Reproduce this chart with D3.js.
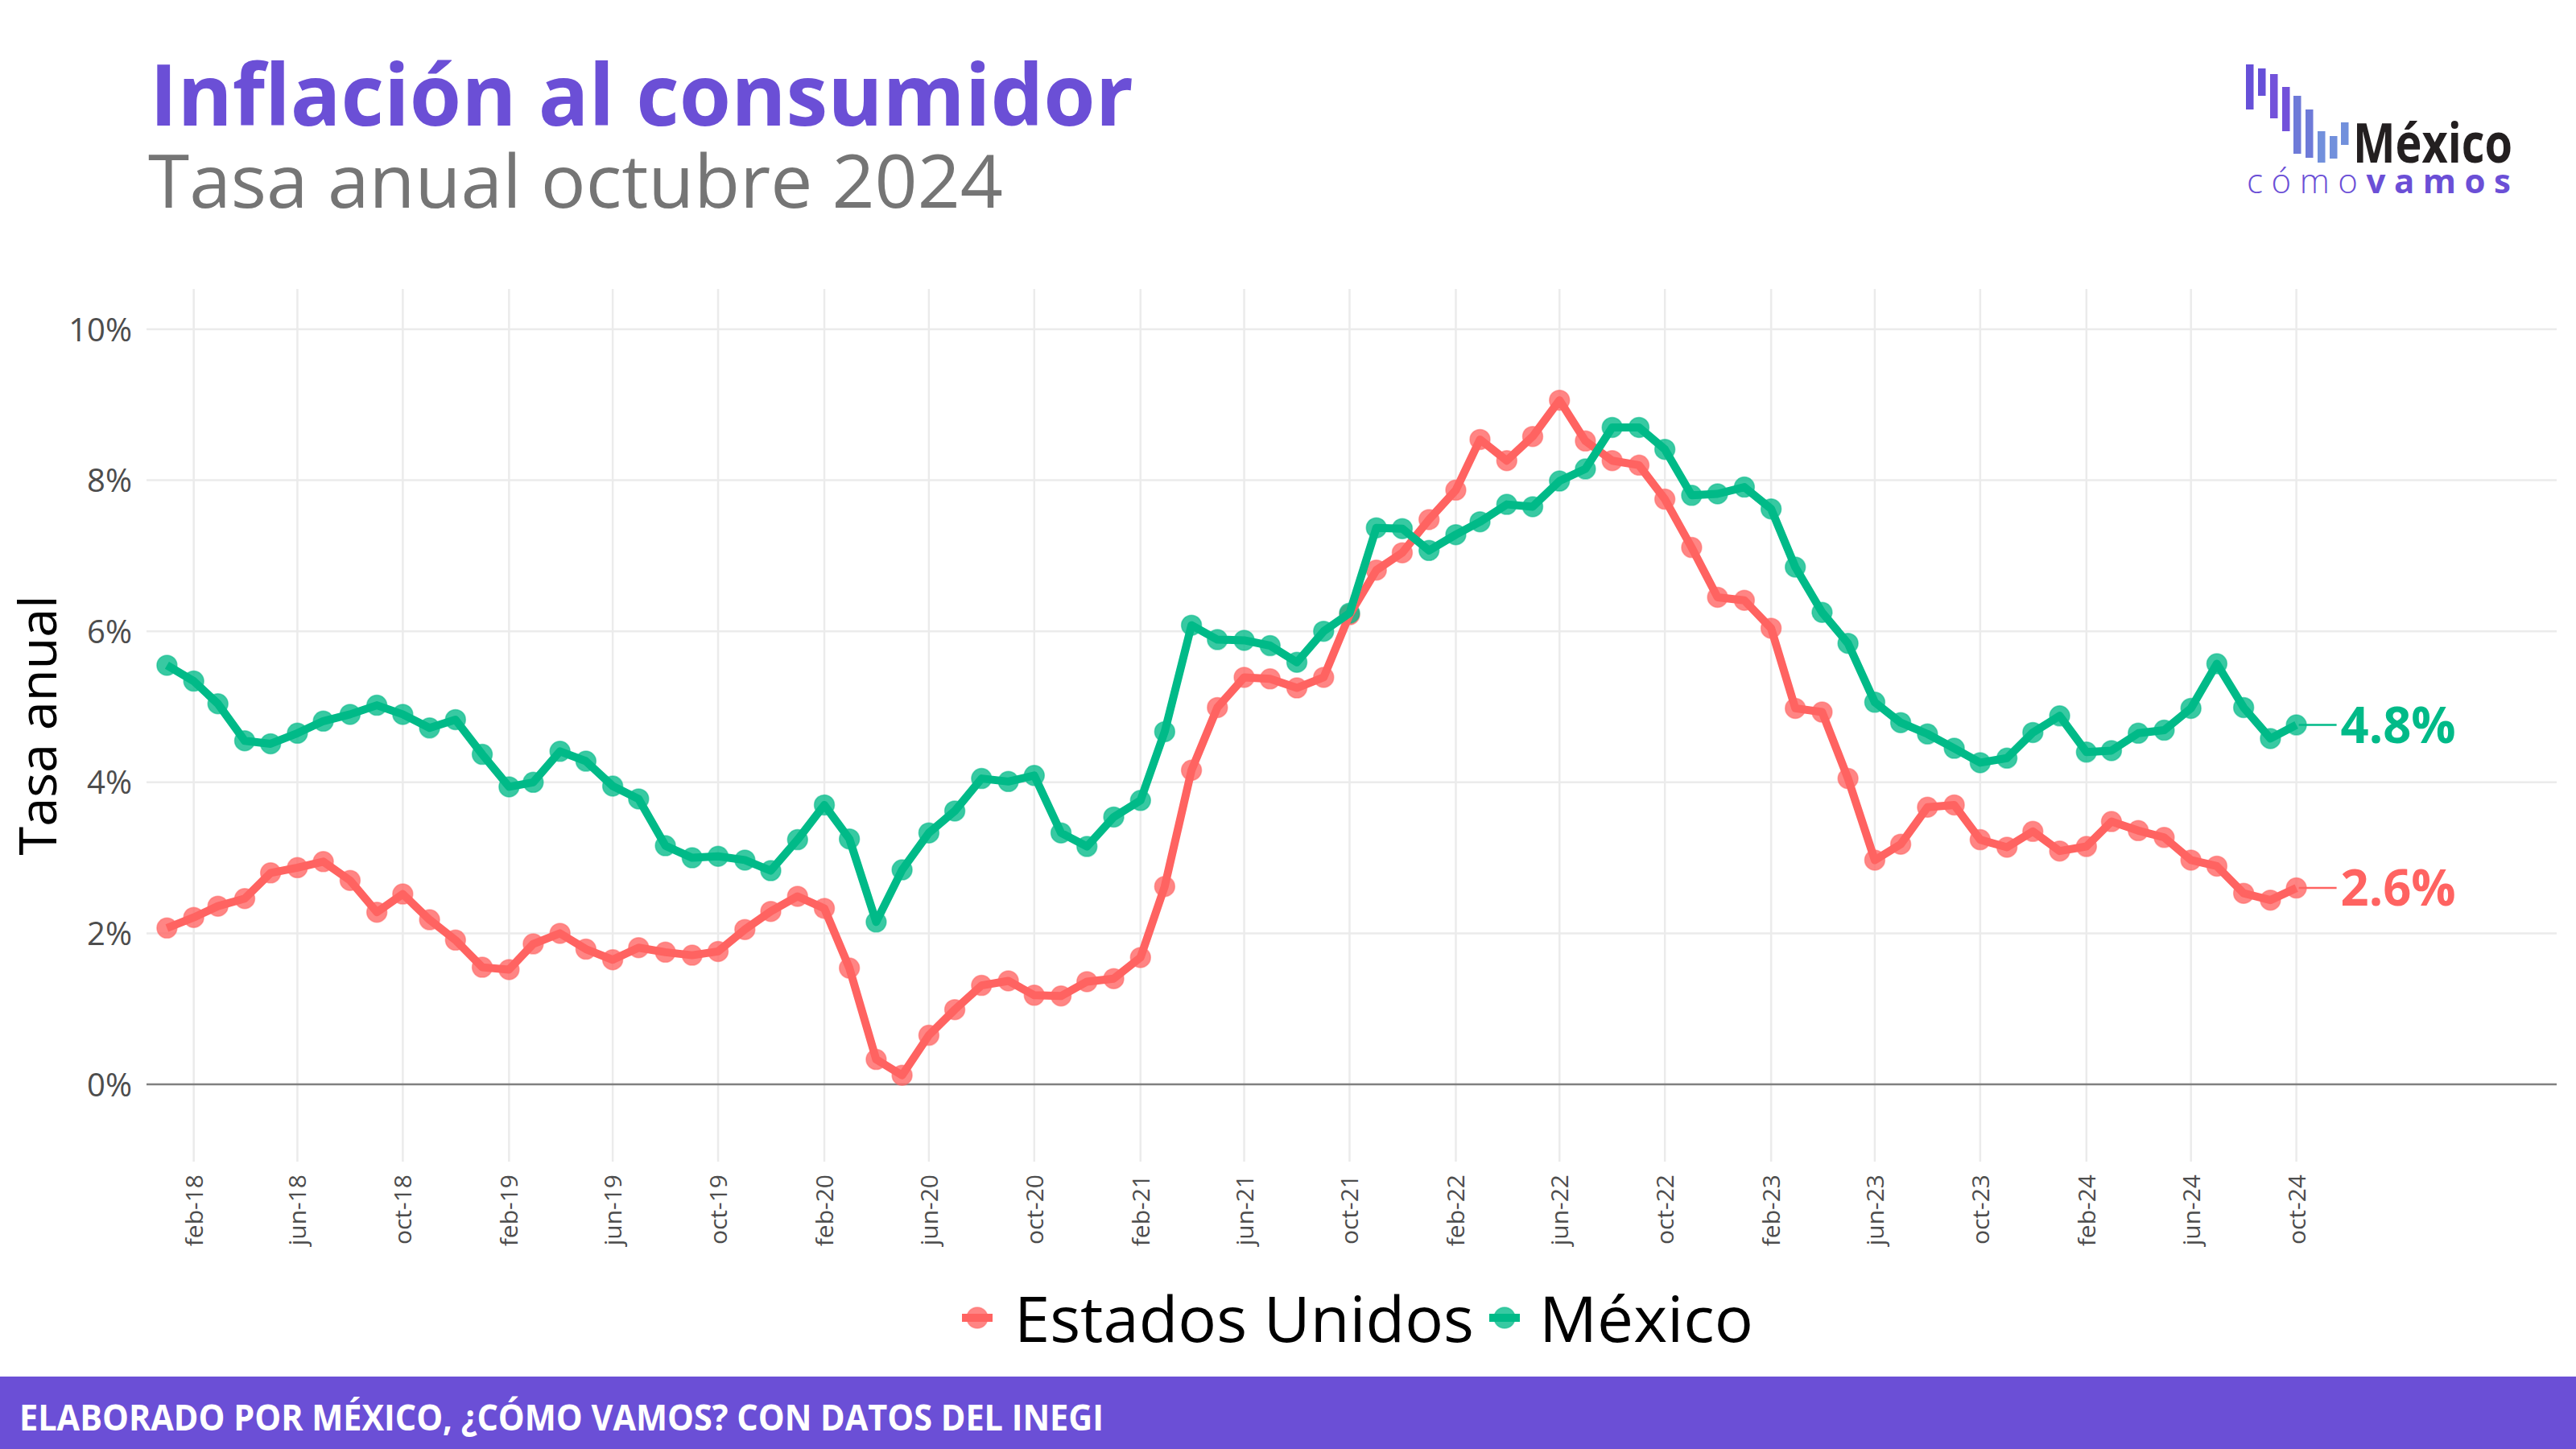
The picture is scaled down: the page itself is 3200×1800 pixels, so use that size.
<!DOCTYPE html>
<html>
<head>
<meta charset="utf-8">
<script src="https://cdn.jsdelivr.net/npm/d3@7"></script>
<style>
  html, body { margin: 0; padding: 0; background: #ffffff; }
  svg { display: block; }
</style>
</head>
<body>
<svg id="chart" width="3200" height="1800"></svg>
<script>
// ---------------- DATA ----------------
const months = [
  "2018-01","2018-02","2018-03","2018-04","2018-05","2018-06","2018-07","2018-08","2018-09","2018-10","2018-11","2018-12",
  "2019-01","2019-02","2019-03","2019-04","2019-05","2019-06","2019-07","2019-08","2019-09","2019-10","2019-11","2019-12",
  "2020-01","2020-02","2020-03","2020-04","2020-05","2020-06","2020-07","2020-08","2020-09","2020-10","2020-11","2020-12",
  "2021-01","2021-02","2021-03","2021-04","2021-05","2021-06","2021-07","2021-08","2021-09","2021-10","2021-11","2021-12",
  "2022-01","2022-02","2022-03","2022-04","2022-05","2022-06","2022-07","2022-08","2022-09","2022-10","2022-11","2022-12",
  "2023-01","2023-02","2023-03","2023-04","2023-05","2023-06","2023-07","2023-08","2023-09","2023-10","2023-11","2023-12",
  "2024-01","2024-02","2024-03","2024-04","2024-05","2024-06","2024-07","2024-08","2024-09","2024-10"
];

const estadosUnidos = [
  2.07,2.21,2.36,2.46,2.80,2.87,2.95,2.70,2.28,2.52,2.18,1.91,
  1.55,1.52,1.86,2.00,1.79,1.65,1.81,1.75,1.71,1.76,2.05,2.29,
  2.49,2.33,1.54,0.33,0.12,0.65,0.99,1.31,1.37,1.18,1.17,1.36,
  1.40,1.68,2.62,4.16,4.99,5.39,5.37,5.25,5.39,6.22,6.81,7.04,
  7.48,7.87,8.54,8.26,8.58,9.06,8.52,8.26,8.20,7.75,7.11,6.45,
  6.41,6.04,4.98,4.93,4.05,2.97,3.18,3.67,3.70,3.24,3.14,3.35,
  3.09,3.15,3.48,3.36,3.27,2.97,2.89,2.53,2.44,2.60
];

const mexico = [
  5.55,5.34,5.04,4.55,4.51,4.65,4.81,4.90,5.02,4.90,4.72,4.83,
  4.37,3.94,4.00,4.41,4.28,3.95,3.78,3.16,3.00,3.02,2.97,2.83,
  3.24,3.70,3.25,2.15,2.84,3.33,3.62,4.05,4.01,4.09,3.33,3.15,
  3.54,3.76,4.67,6.08,5.89,5.88,5.81,5.59,6.00,6.24,7.37,7.36,
  7.07,7.28,7.45,7.68,7.65,7.99,8.15,8.70,8.70,8.41,7.80,7.82,
  7.91,7.62,6.85,6.25,5.84,5.06,4.79,4.64,4.45,4.26,4.32,4.66,
  4.88,4.40,4.42,4.65,4.69,4.98,5.57,4.99,4.58,4.76
];

const seriesNames = ["Estados Unidos", "México"];
const yTicks = [0, 2, 4, 6, 8, 10];
const xTickMonths = [
  "2018-02","2018-06","2018-10","2019-02","2019-06","2019-10","2020-02","2020-06","2020-10",
  "2021-02","2021-06","2021-10","2022-02","2022-06","2022-10","2023-02","2023-06","2023-10",
  "2024-02","2024-06","2024-10"
];
const monthAbbr = ["ene","feb","mar","abr","may","jun","jul","ago","sep","oct","nov","dic"];

// ---------------- STYLE / LAYOUT ----------------
const FONT = "'Open Sans', 'Noto Sans', sans-serif";
const colors = { "Estados Unidos": "#FF6361", "México": "#00BA88" };
const purple = "#6B4FD6";
const panel = { left: 182, right: 3176, top: 359, bottom: 1443 };

const svg = d3.select("#chart");
const parse = d3.timeParse("%Y-%m");
const dates = months.map(parse);

const x = d3.scaleTime()
  .domain([dates[0], dates[dates.length - 1]])
  .range([207.4, 2852.6]);
const y = d3.scaleLinear().domain([0, 10]).range([1347, 409]);

const series = seriesNames.map(name => ({
  name,
  values: (name === "Estados Unidos" ? estadosUnidos : mexico).map((v, i) => ({ date: dates[i], value: v }))
}));

// ---------------- HEADER ----------------
svg.append("text")
  .attr("x", 186).attr("y", 156)
  .attr("font-family", FONT).attr("font-weight", 700).attr("font-size", 106)
  .attr("fill", purple)
  .attr("textLength", 1222).attr("lengthAdjust", "spacingAndGlyphs")
  .text("Inflación al consumidor");

svg.append("text")
  .attr("x", 184).attr("y", 258)
  .attr("font-family", FONT).attr("font-weight", 400).attr("font-size", 92)
  .attr("fill", "#757575")
  .attr("textLength", 1062).attr("lengthAdjust", "spacingAndGlyphs")
  .text("Tasa anual octubre 2024");

// Logo (decorative)
const logo = svg.append("g").attr("class", "logo");
const logoBars = [
  { x0: 2790, y0: 80, y1: 136, c: "#6650D8" },
  { x0: 2805, y0: 85, y1: 119, c: "#6650D8" },
  { x0: 2820, y0: 92, y1: 147, c: "#7352DA" },
  { x0: 2835, y0: 108, y1: 163, c: "#7352DA" },
  { x0: 2849, y0: 119, y1: 191, c: "#6E7AD8" },
  { x0: 2864, y0: 136, y1: 196, c: "#6E7AD8" },
  { x0: 2879, y0: 163, y1: 202, c: "#7290DC" },
  { x0: 2894, y0: 169, y1: 197, c: "#7290DC" },
  { x0: 2908, y0: 152, y1: 180, c: "#7290DC" }
];
logo.selectAll("rect").data(logoBars).join("rect")
  .attr("x", d => d.x0).attr("y", d => d.y0)
  .attr("width", 9.5).attr("height", d => d.y1 - d.y0)
  .attr("fill", d => d.c);
logo.append("text")
  .attr("x", 2923).attr("y", 202)
  .attr("font-family", "'Open Sans', sans-serif").attr("font-weight", 700).attr("font-size", 68)
  .attr("fill", "#231F20")
  .attr("textLength", 198).attr("lengthAdjust", "spacingAndGlyphs")
  .text("México");
const cv = logo.append("text")
  .attr("x", 2791).attr("y", 240)
  .attr("font-family", "'Open Sans', sans-serif").attr("font-size", 42)
  .attr("fill", purple)
  .attr("textLength", 328).attr("lengthAdjust", "spacing");
cv.append("tspan").attr("font-weight", 300).text("cómo");
cv.append("tspan").attr("font-weight", 700).text("vamos");

// ---------------- PANEL ----------------
const grid = svg.append("g").attr("class", "grid");
grid.selectAll("line.h").data(yTicks.filter(t => t !== 0)).join("line")
  .attr("class", "h")
  .attr("x1", panel.left).attr("x2", panel.right)
  .attr("y1", d => y(d)).attr("y2", d => y(d))
  .attr("stroke", "#EBEBEB").attr("stroke-width", 2.5);

grid.selectAll("line.v").data(xTickMonths.map(parse)).join("line")
  .attr("class", "v")
  .attr("x1", d => x(d)).attr("x2", d => x(d))
  .attr("y1", panel.top).attr("y2", panel.bottom)
  .attr("stroke", "#EBEBEB").attr("stroke-width", 2.5);

// zero line
svg.append("line")
  .attr("x1", panel.left).attr("x2", panel.right)
  .attr("y1", y(0)).attr("y2", y(0))
  .attr("stroke", "#808080").attr("stroke-width", 2.5);

// Y axis labels
const yAxis = d3.axisLeft(y).tickValues(yTicks).tickSize(0).tickPadding(0)
  .tickFormat(d => d + "%");
const yg = svg.append("g").attr("transform", `translate(${164},0)`).call(yAxis);
yg.select(".domain").remove();
yg.selectAll("text")
  .attr("font-family", FONT).attr("font-size", 40).attr("fill", "#4D4D4D")
  .attr("x", 0).attr("dy", "0.35em");

// X axis labels (rotated)
const xAxis = d3.axisBottom(x).tickValues(xTickMonths.map(parse)).tickSize(0).tickPadding(0)
  .tickFormat(d => monthAbbr[d.getMonth()] + "-" + d3.timeFormat("%y")(d));
const xg = svg.append("g").attr("transform", `translate(0,${1459})`).call(xAxis);
xg.select(".domain").remove();
xg.selectAll("text")
  .attr("font-family", FONT).attr("font-size", 30).attr("fill", "#4D4D4D")
  .attr("transform", "rotate(-90)")
  .attr("text-anchor", "end")
  .attr("x", 0).attr("y", 0).attr("dy", "0.35em");

// Y title
svg.append("text")
  .attr("transform", `translate(70,${(panel.top + panel.bottom) / 2}) rotate(-90)`)
  .attr("text-anchor", "middle")
  .attr("font-family", FONT).attr("font-size", 64).attr("fill", "#000000")
  .attr("textLength", 323).attr("lengthAdjust", "spacingAndGlyphs")
  .text("Tasa anual");

// ---------------- SERIES ----------------
const line = d3.line().x(d => x(d.date)).y(d => y(d.value));

const pts = svg.append("g").attr("class", "points");
series.forEach(s => {
  pts.append("g").selectAll("circle").data(s.values).join("circle")
    .attr("cx", d => x(d.date)).attr("cy", d => y(d.value)).attr("r", 12.5)
    .attr("fill", colors[s.name]).attr("fill-opacity", 0.78)
    .attr("stroke", colors[s.name]).attr("stroke-opacity", 0.5).attr("stroke-width", 1.5);
});

const lines = svg.append("g").attr("class", "lines");
series.forEach(s => {
  lines.append("path").datum(s.values)
    .attr("d", line)
    .attr("fill", "none")
    .attr("stroke", colors[s.name])
    .attr("stroke-width", 10)
    .attr("stroke-linejoin", "round")
    .attr("stroke-linecap", "butt");
});

// End labels
const endLab = svg.append("g").attr("class", "end-labels");
series.forEach(s => {
  const last = s.values[s.values.length - 1];
  const lx = x(last.date), ly = y(last.value);
  endLab.append("line")
    .attr("x1", lx + 3).attr("x2", lx + 50)
    .attr("y1", ly).attr("y2", ly)
    .attr("stroke", colors[s.name]).attr("stroke-width", 2.5);
  endLab.append("text")
    .attr("x", lx + 55).attr("y", ly).attr("dy", "0.36em")
    .attr("font-family", FONT).attr("font-weight", 700).attr("font-size", 62)
    .attr("fill", colors[s.name])
    .attr("textLength", 143).attr("lengthAdjust", "spacingAndGlyphs")
    .text(d3.format(".1f")(last.value) + "%");
});

// ---------------- LEGEND ----------------
const legendItems = [
  { name: "Estados Unidos", kx: 1214, tx: 1260, tw: 571 },
  { name: "México", kx: 1869, tx: 1912, tw: 266 }
];
const lg = svg.append("g").attr("class", "legend");
legendItems.forEach(it => {
  const g = lg.append("g").attr("transform", `translate(${it.kx},1637)`);
  g.append("circle").attr("r", 13)
    .attr("fill", colors[it.name]).attr("fill-opacity", 0.78)
    .attr("stroke", colors[it.name]).attr("stroke-opacity", 0.5).attr("stroke-width", 1.5);
  g.append("line").attr("x1", -19).attr("x2", 19)
    .attr("stroke", colors[it.name]).attr("stroke-width", 10);
  lg.append("text")
    .attr("x", it.tx).attr("y", 1667)
    .attr("font-family", FONT).attr("font-size", 78).attr("fill", "#000000")
    .attr("textLength", it.tw).attr("lengthAdjust", "spacingAndGlyphs")
    .text(it.name);
});

// ---------------- FOOTER ----------------
svg.append("rect")
  .attr("x", 0).attr("y", 1710).attr("width", 3200).attr("height", 90)
  .attr("fill", purple);
svg.append("text")
  .attr("x", 24).attr("y", 1777)
  .attr("font-family", FONT).attr("font-weight", 700).attr("font-size", 44)
  .attr("fill", "#FFFFFF")
  .attr("textLength", 1347).attr("lengthAdjust", "spacingAndGlyphs")
  .text("ELABORADO POR MÉXICO, ¿CÓMO VAMOS? CON DATOS DEL INEGI");
</script>
</body>
</html>
